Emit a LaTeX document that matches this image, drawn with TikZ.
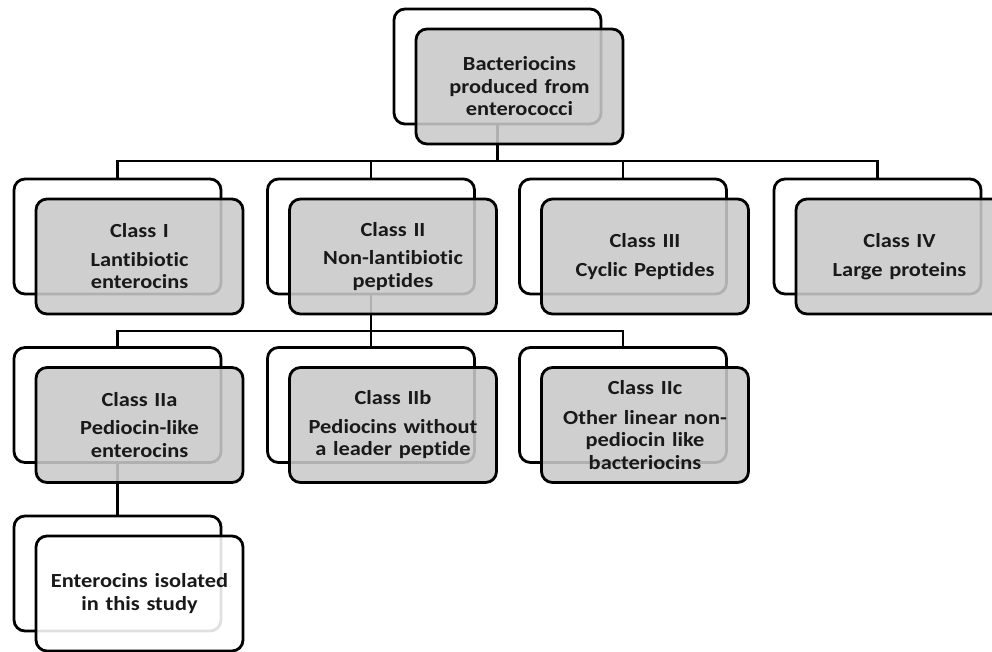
\documentclass[tikz,border=0pt]{standalone}
\usepackage{fontspec}
\setmainfont{Carlito}[FakeStretch=1.12, RawFeature=-liga]
\definecolor{boxgrey}{RGB}{201,201,201}
\definecolor{textdark}{RGB}{25,25,25}
\begin{document}
\begin{tikzpicture}[x=1pt,y=-1pt,
  box/.style={draw=black, line width=2.8pt, rounded corners=11pt,
    minimum width=207pt, minimum height=115pt, inner sep=0pt},
  backbox/.style={box, fill=white},
  frontbox/.style={box, fill=boxgrey, fill opacity=0.88, draw opacity=1,
    text opacity=1, text=textdark, align=center, text width=204pt,
    font=\fontsize{20}{22.5}\selectfont\bfseries},
  whitebox/.style={frontbox, fill=white},
  link/.style={draw=black, line width=2.8pt}]
\useasboundingbox (0,0) rectangle (992,651);
\clip (0,0) rectangle (992,651);

% rear outlines of every entry
\node[backbox] (top-b) at (497.5,66.5) {};
\node[backbox] (c1-b) at (117.5,236.5) {};
\node[backbox] (c2-b) at (371,236.5) {};
\node[backbox] (c3-b) at (623,236.5) {};
\node[backbox] (c4-b) at (877.5,236.5) {};
\node[backbox] (s1-b) at (117.5,405) {};
\node[backbox] (s2-b) at (371,405) {};
\node[backbox] (s3-b) at (623,405) {};
\node[backbox] (leaf-b) at (117.5,573.5) {};

% bus lines
\coordinate (bus1) at (0,161);
\coordinate (bus2) at (0,331);

% connectors
\draw[link] (top-b.south) -- (top-b.south |- bus1);
\draw[link] (c1-b.north) |- (c4-b.north |- bus1) -- (c4-b.north);
\draw[link] (c2-b.north) -- (c2-b.north |- bus1);
\draw[link] (c3-b.north) -- (c3-b.north |- bus1);
\draw[link] (c2-b.south) -- (c2-b.south |- bus2);
\draw[link] (s1-b.north) |- (s3-b.north |- bus2) -- (s3-b.north);
\draw[link] (s2-b.north) -- (s2-b.north |- bus2);
\draw[link] (s1-b.south) -- (leaf-b.north);

% front panels with the labels
\node[frontbox] (top) at ([shift={(22,20)}]top-b.center)
  {Bacteriocins\\produced from\\enterococci};
\node[frontbox] (c1) at ([shift={(22,20)}]c1-b.center)
  {Class I\\[6pt]Lantibiotic\\enterocins};
\node[frontbox] (c2) at ([shift={(22,20)}]c2-b.center)
  {Class II\\[6pt]Non-lantibiotic\\peptides};
\node[frontbox] (c3) at ([shift={(22,20)}]c3-b.center)
  {Class III\\[7pt]Cyclic Peptides};
\node[frontbox] (c4) at ([shift={(22,20)}]c4-b.center)
  {Class IV\\[7pt]Large proteins};
\node[frontbox] (s1) at ([shift={(22,20)}]s1-b.center)
  {Class IIa\\[6pt]Pediocin-like\\enterocins};
\node[frontbox] (s2) at ([shift={(22,20)}]s2-b.center)
  {Class IIb\\[6pt]Pediocins without\\a leader peptide};
\node[frontbox] (s3) at ([shift={(22,20)}]s3-b.center)
  {Class IIc\\[7pt]Other linear non-\\pediocin like\\bacteriocins};
\node[whitebox] (leaf) at ([shift={(22,20)}]leaf-b.center)
  {Enterocins isolated\\in this study};
\end{tikzpicture}
\end{document}
